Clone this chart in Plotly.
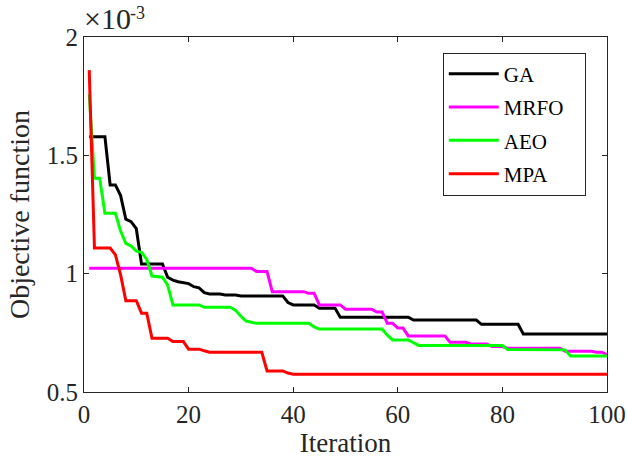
import plotly.graph_objects as go

# Iterations 1..100
iterations = list(range(1, 101))

# Objective function values (in units of 1e-3)
ga = [1.579, 1.579, 1.579, 1.579, 1.375, 1.375, 1.330, 1.230, 1.220, 1.190,
      1.041, 1.041, 1.041, 1.041, 1.041, 0.985, 0.973, 0.966, 0.963, 0.958,
      0.945, 0.940, 0.920, 0.914, 0.914, 0.914, 0.910, 0.910, 0.910, 0.906,
      0.906, 0.906, 0.906, 0.906, 0.906, 0.906, 0.906, 0.906, 0.878, 0.868,
      0.868, 0.868, 0.868, 0.868, 0.854, 0.854, 0.854, 0.854, 0.816, 0.816,
      0.816, 0.816, 0.816, 0.816, 0.816, 0.816, 0.816, 0.816, 0.816, 0.816,
      0.816, 0.816, 0.804, 0.804, 0.804, 0.804, 0.804, 0.804, 0.804, 0.804,
      0.804, 0.804, 0.804, 0.804, 0.804, 0.786, 0.786, 0.786, 0.786, 0.786,
      0.786, 0.786, 0.786, 0.745, 0.745, 0.745, 0.745, 0.745, 0.745, 0.745,
      0.745, 0.745, 0.745, 0.745, 0.745, 0.745, 0.745, 0.745, 0.745, 0.745]

mrfo = [1.023, 1.023, 1.023, 1.023, 1.023, 1.023, 1.023, 1.023, 1.023, 1.023,
        1.023, 1.023, 1.023, 1.023, 1.023, 1.023, 1.023, 1.023, 1.023, 1.023,
        1.023, 1.023, 1.023, 1.023, 1.023, 1.023, 1.023, 1.023, 1.023, 1.023,
        1.023, 1.023, 1.009, 1.009, 1.009, 0.924, 0.924, 0.924, 0.924, 0.924,
        0.924, 0.924, 0.917, 0.917, 0.868, 0.868, 0.868, 0.868, 0.868, 0.850,
        0.850, 0.850, 0.850, 0.850, 0.850, 0.838, 0.838, 0.790, 0.790, 0.770,
        0.770, 0.737, 0.737, 0.737, 0.737, 0.737, 0.737, 0.737, 0.737, 0.710,
        0.710, 0.710, 0.710, 0.703, 0.703, 0.703, 0.703, 0.692, 0.692, 0.692,
        0.685, 0.685, 0.685, 0.685, 0.685, 0.685, 0.685, 0.685, 0.685, 0.685,
        0.685, 0.672, 0.672, 0.672, 0.672, 0.672, 0.672, 0.668, 0.668, 0.658]

aeo = [1.757, 1.403, 1.403, 1.255, 1.255, 1.255, 1.180, 1.128, 1.117, 1.095,
       1.090, 1.060, 0.990, 0.987, 0.985, 0.952, 0.868, 0.868, 0.868, 0.868,
       0.868, 0.868, 0.858, 0.858, 0.858, 0.858, 0.858, 0.858, 0.845, 0.820,
       0.800, 0.795, 0.790, 0.790, 0.790, 0.790, 0.790, 0.790, 0.790, 0.790,
       0.790, 0.790, 0.790, 0.775, 0.766, 0.766, 0.766, 0.766, 0.766, 0.766,
       0.766, 0.766, 0.766, 0.766, 0.766, 0.766, 0.766, 0.740, 0.720, 0.720,
       0.720, 0.720, 0.708, 0.697, 0.697, 0.697, 0.697, 0.697, 0.697, 0.697,
       0.697, 0.697, 0.697, 0.697, 0.697, 0.697, 0.697, 0.697, 0.697, 0.697,
       0.680, 0.680, 0.680, 0.680, 0.680, 0.680, 0.680, 0.680, 0.680, 0.680,
       0.680, 0.678, 0.652, 0.652, 0.652, 0.652, 0.652, 0.652, 0.652, 0.652]

mpa = [1.860, 1.108, 1.108, 1.108, 1.108, 1.080, 0.995, 0.886, 0.886, 0.886,
       0.833, 0.833, 0.727, 0.727, 0.727, 0.727, 0.713, 0.713, 0.713, 0.681,
       0.681, 0.681, 0.674, 0.668, 0.668, 0.668, 0.668, 0.668, 0.668, 0.668,
       0.668, 0.668, 0.668, 0.668, 0.589, 0.589, 0.589, 0.589, 0.580, 0.575,
       0.575, 0.575, 0.575, 0.575, 0.575, 0.575, 0.575, 0.575, 0.575, 0.575,
       0.575, 0.575, 0.575, 0.575, 0.575, 0.575, 0.575, 0.575, 0.575, 0.575,
       0.575, 0.575, 0.575, 0.575, 0.575, 0.575, 0.575, 0.575, 0.575, 0.575,
       0.575, 0.575, 0.575, 0.575, 0.575, 0.575, 0.575, 0.575, 0.575, 0.575,
       0.575, 0.575, 0.575, 0.575, 0.575, 0.575, 0.575, 0.575, 0.575, 0.575,
       0.575, 0.575, 0.575, 0.575, 0.575, 0.575, 0.575, 0.575, 0.575, 0.575]

series_names = ["GA", "MRFO", "AEO", "MPA"]
series_colors = ["#000000", "#FF00FF", "#00FF00", "#FF0000"]

x_ticks = [0, 20, 40, 60, 80, 100]
y_ticks = [0.5, 1, 1.5, 2]
y_tick_text = ["0.5", "1", "1.5", "2"]

FONT = "Liberation Serif"
AX = "#262626"
PAD = "\u00a0" * 3

fig = go.Figure()
for name, vals, col in zip(series_names, [ga, mrfo, aeo, mpa], series_colors):
    fig.add_trace(go.Scatter(x=iterations, y=vals, mode="lines",
                             name=name + PAD, legendgroup=name,
                             line=dict(color=col, width=3)))

fig.update_layout(
    width=627, height=462,
    margin=dict(l=84, r=20, t=37, b=70, autoexpand=False),
    plot_bgcolor="white", paper_bgcolor="white",
    font=dict(family=FONT, size=25, color=AX),
    legend=dict(x=0.686, y=0.956, xanchor="left", yanchor="top",
                bgcolor="white", bordercolor=AX, borderwidth=1,
                font=dict(family=FONT, size=21, color="#000000"),
                tracegroupgap=3, itemwidth=50),
    showlegend=True,
)
fig.update_xaxes(range=[0, 100], tickvals=x_ticks, ticks="inside", ticklen=5,
                 tickcolor=AX, showline=True, linecolor=AX, linewidth=1,
                 mirror="ticks", showgrid=False, zeroline=False,
                 automargin=False,
                 title=dict(text="Iteration", font=dict(size=27), standoff=6))
fig.update_yaxes(range=[0.5, 2], tickvals=y_ticks, ticktext=y_tick_text,
                 ticks="inside", ticklen=5, tickcolor=AX, showline=True,
                 linecolor=AX, linewidth=1, mirror="ticks", showgrid=False,
                 zeroline=False, automargin=False,
                 title=dict(text="Objective function", font=dict(size=28),
                            standoff=8))
fig.add_annotation(text="×10", xref="paper", yref="paper",
                   x=0, y=1, xanchor="left", yanchor="bottom", showarrow=False,
                   font=dict(family=FONT, size=30, color=AX), yshift=0, xshift=-2)
fig.add_annotation(text="-3", xref="paper", yref="paper",
                   x=0, y=1, xanchor="left", yanchor="bottom", showarrow=False,
                   font=dict(family=FONT, size=18, color=AX), yshift=12, xshift=44)

fig.write_html("out.html")
